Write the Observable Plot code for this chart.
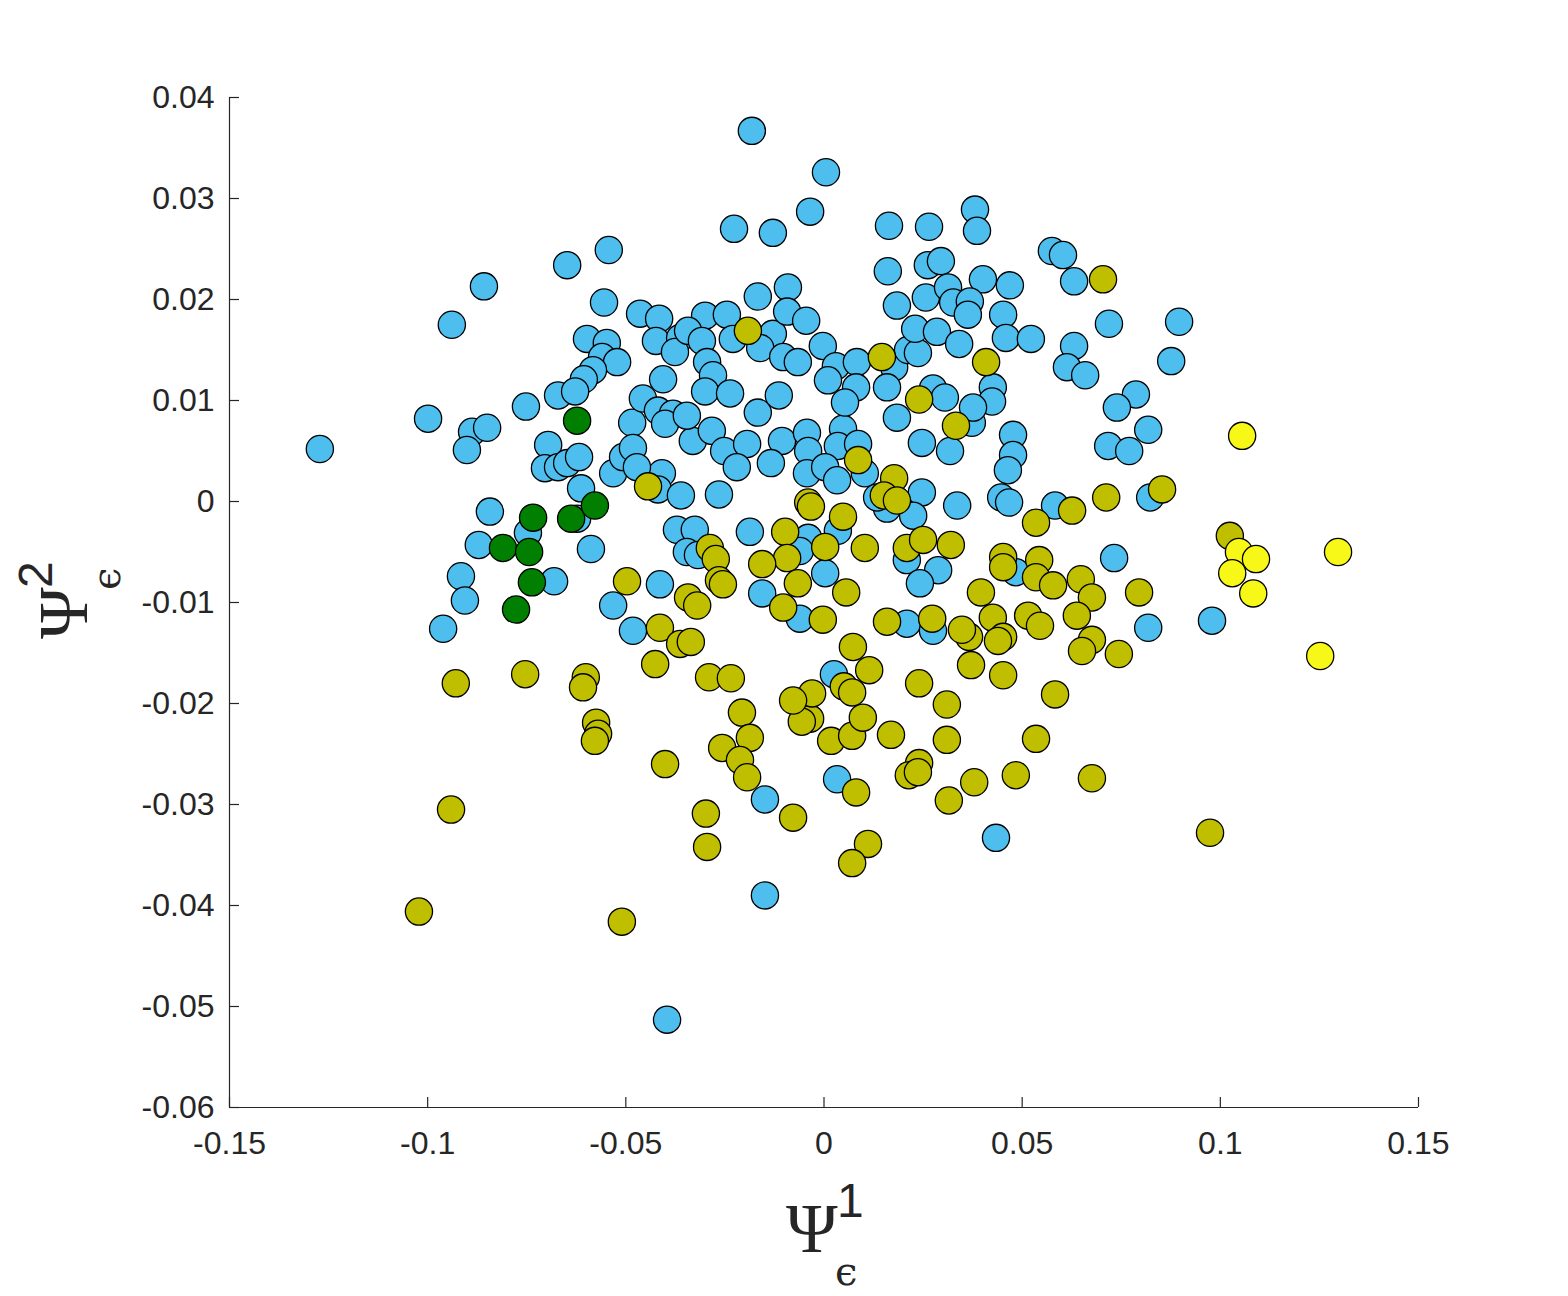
<!DOCTYPE html>
<html>
<head>
<meta charset="utf-8">
<script src="https://cdn.jsdelivr.net/npm/d3@7"></script>
<script src="https://cdn.jsdelivr.net/npm/@observablehq/plot@0.6"></script>
<style>
  html, body { margin: 0; padding: 0; background: #ffffff; }
  #chart { width: 1568px; height: 1296px; }
</style>
</head>
<body>
<div id="chart"></div>
<script>
// ---- data ----
const xTicks = [-0.15, -0.1, -0.05, 0, 0.05, 0.1, 0.15];
const yTicks = [-0.06, -0.05, -0.04, -0.03, -0.02, -0.01, 0, 0.01, 0.02, 0.03, 0.04];

const blueX = [-0.1272,-0.0999,-0.0939,-0.0858,-0.0888,-0.0850,-0.0901,-0.0752,-0.0843,-0.0871,
  -0.0916,-0.0906,-0.0961,-0.0747,-0.0681,-0.0588,-0.0532,-0.0482,-0.0648,-0.0543,
  -0.0555,-0.0598,-0.0548,-0.0560,-0.0522,-0.0583,-0.0606,-0.0671,-0.0628,-0.0696,
  -0.0704,-0.0671,-0.0648,-0.0618,-0.0613,-0.0532,-0.0507,-0.0623,-0.0484,-0.0457,
  -0.0464,-0.0416,-0.0424,-0.0363,-0.0376,-0.0300,-0.0245,-0.0343,-0.0308,-0.0230,
  -0.0129,-0.0161,-0.0295,-0.0280,-0.0300,-0.0237,-0.0406,-0.0419,-0.0381,-0.0401,
  -0.0482,-0.0331,-0.0283,-0.0252,-0.0194,-0.0167,-0.0114,-0.0106,-0.0043,-0.0182,
  0.0005,-0.0035,-0.0227,-0.0129,0.0164,0.0265,0.0381,0.0386,0.0161,0.0262,
  0.0295,0.0401,-0.0167,-0.0091,-0.0093,-0.0045,0.0184,0.0257,0.0313,0.0326,
  0.0368,0.0363,-0.0103,-0.0066,-0.0003,0.0030,0.0010,0.0083,0.0081,0.0177,
  0.0212,0.0237,0.0230,0.0285,0.0341,0.0159,0.0275,0.0305,0.0184,0.0247,
  0.0318,0.0048,0.0035,0.0086,0.0053,0.0575,0.0603,0.0631,0.0469,0.0452,
  0.0459,0.0522,0.0631,0.0613,0.0659,0.0719,0.0896,0.0876,0.0787,0.0739,
  0.0818,0.0717,0.0770,0.0426,0.0424,0.0373,0.0477,0.0477,0.0376,0.0464,
  0.0447,0.0467,0.0583,0.0823,0.0336,0.0732,0.0484,0.0818,0.0979,0.0434,
  -0.0149,-0.0149,-0.0396,0.0033,-0.0409,-0.0419,-0.0361,-0.0265,-0.0220,-0.0134,
  -0.0040,-0.0043,0.0003,0.0033,0.0103,0.0159,0.0134,0.0247,0.0225,-0.0371,
  -0.0326,-0.0346,-0.0318,-0.0187,-0.0040,0.0035,-0.0061,0.0003,-0.0156,-0.0061,
  0.0209,0.0288,0.0242,0.0209,0.0275,0.0025,-0.0414,-0.0346,-0.0472];
const blueY = [0.0052,0.0082,0.0175,0.0213,0.0069,0.0073,0.0051,0.0094,-0.0010,-0.0043,
  -0.0074,-0.0098,-0.0126,-0.0031,-0.0079,-0.0047,-0.0103,-0.0128,0.0234,0.0249,
  0.0197,0.0161,0.0157,0.0143,0.0138,0.0130,0.0121,0.0105,0.0109,0.0056,
  0.0033,0.0034,0.0038,0.0044,0.0013,0.0028,0.0044,-0.0017,0.0078,0.0102,
  0.0186,0.0181,0.0159,0.0162,0.0148,0.0184,0.0185,0.0169,0.0159,0.0161,
  0.0166,0.0152,0.0138,0.0125,0.0109,0.0107,0.0121,0.0090,0.0087,0.0077,
  0.0053,0.0060,0.0070,0.0050,0.0057,0.0088,0.0105,0.0060,0.0068,0.0367,
  0.0326,0.0287,0.0270,0.0266,0.0273,0.0272,0.0289,0.0268,0.0228,0.0234,
  0.0238,0.0220,0.0203,0.0212,0.0188,0.0179,0.0194,0.0202,0.0212,0.0197,
  0.0198,0.0185,0.0143,0.0138,0.0154,0.0134,0.0120,0.0138,0.0113,0.0133,
  0.0150,0.0147,0.0171,0.0168,0.0156,0.0113,0.0112,0.0103,0.0083,0.0058,
  0.0050,0.0072,0.0055,0.0057,0.0098,0.0248,0.0244,0.0218,0.0214,0.0185,
  0.0162,0.0161,0.0154,0.0133,0.0125,0.0176,0.0178,0.0139,0.0106,0.0093,
  0.0071,0.0055,0.0050,0.0113,0.0099,0.0078,0.0066,0.0046,0.0093,0.0031,
  0.0004,-0.0001,-0.0004,0.0004,-0.0004,-0.0056,-0.0070,-0.0125,-0.0118,-0.0333,
  -0.0295,-0.0390,-0.0513,-0.0275,0.0028,0.0012,0.0006,0.0007,0.0034,0.0038,
  0.0050,0.0028,0.0034,0.0021,0.0028,-0.0007,0.0004,0.0009,-0.0014,-0.0028,
  -0.0028,-0.0050,-0.0053,-0.0030,-0.0036,-0.0029,-0.0049,-0.0071,-0.0091,-0.0116,
  -0.0058,-0.0068,-0.0081,-0.0121,-0.0128,-0.0171,-0.0082,0.0085,0.0034];

const oliveX = [-0.0192,0.0146,0.0240,0.0409,0.0333,0.0086,0.0704,0.0626,0.0535,0.0712,
  0.0853,0.1024,0.0452,0.0452,0.0543,0.0535,0.0578,0.0648,0.0676,0.0396,
  0.0795,0.0426,0.0515,0.0545,0.0638,0.0676,0.0651,0.0744,0.0366,0.0452,
  0.0439,0.0371,0.0452,0.0583,0.0535,0.0484,0.0379,0.0676,0.0974,-0.0207,
  -0.0187,-0.0257,-0.0212,-0.0194,-0.0401,-0.0298,-0.0295,-0.0078,-0.0510,-0.0035,
  -0.0056,0.0018,0.0071,0.0098,0.0169,0.0310,0.0310,0.0081,0.0240,0.0214,
  0.0237,0.0315,0.0111,0.0071,-0.0575,-0.0570,-0.0578,-0.0941,-0.1022,-0.0929,
  -0.0754,-0.0601,-0.0608,-0.0497,-0.0444,0.0177,0.0151,0.0184,-0.0288,-0.0273,
  -0.0265,-0.0255,-0.0098,0.0048,-0.0040,-0.0033,-0.0093,-0.0156,0.0003,-0.0066,
  -0.0103,-0.0003,0.0056,0.0103,0.0209,0.0250,0.0320,0.0159,0.0273,0.0348,
  0.0073,0.0114,0.0050,0.0071,0.0240,-0.0030,-0.0078,-0.0290,-0.0235,-0.0426,
  -0.0414,-0.0363,-0.0336,-0.0343,-0.0320];
const oliveY = [0.0169,0.0143,0.0101,0.0138,0.0075,0.0041,0.0220,-0.0009,-0.0021,0.0004,
  0.0012,-0.0034,-0.0055,-0.0065,-0.0058,-0.0075,-0.0083,-0.0077,-0.0095,-0.0090,
  -0.0090,-0.0115,-0.0113,-0.0123,-0.0113,-0.0137,-0.0148,-0.0151,-0.0134,-0.0134,
  -0.0138,-0.0162,-0.0172,-0.0191,-0.0235,-0.0271,-0.0278,-0.0274,-0.0328,-0.0209,
  -0.0234,-0.0244,-0.0256,-0.0273,-0.0260,-0.0309,-0.0342,-0.0313,-0.0416,-0.0215,
  -0.0218,-0.0237,-0.0232,-0.0214,-0.0231,-0.0201,-0.0236,-0.0288,-0.0259,-0.0271,
  -0.0268,-0.0296,-0.0339,-0.0358,-0.0219,-0.0230,-0.0237,-0.0305,-0.0406,-0.0180,
  -0.0171,-0.0174,-0.0184,-0.0079,0.0015,0.0023,0.0006,0.0001,-0.0046,-0.0057,
  -0.0078,-0.0082,-0.0030,-0.0015,-0.0001,-0.0005,-0.0056,-0.0062,-0.0045,-0.0081,
  -0.0105,-0.0117,-0.0090,-0.0046,-0.0046,-0.0038,-0.0043,-0.0119,-0.0116,-0.0127,
  -0.0144,-0.0167,-0.0183,-0.0189,-0.0180,-0.0190,-0.0197,-0.0174,-0.0175,-0.0161,
  -0.0125,-0.0141,-0.0139,-0.0095,-0.0103];

const greenX = [-0.0623,-0.0734,-0.0810,-0.0744,-0.0737,-0.0777,-0.0638,-0.0578];
const greenY = [0.0080,-0.0016,-0.0046,-0.0050,-0.0080,-0.0107,-0.0017,-0.0004];

const yellowX = [0.1055,0.1047,0.1090,0.1030,0.1083,0.1297,0.1252];
const yellowY = [0.0065,-0.0050,-0.0057,-0.0071,-0.0091,-0.0050,-0.0153];

// ---- build tables ----
const toRows = (xs, ys) => xs.map((x, i) => ({x, y: ys[i]}));
const blue = toRows(blueX, blueY);
const olive = toRows(oliveX, oliveY);
const green = toRows(greenX, greenY);
const yellow = toRows(yellowX, yellowY);

const ink = "#262626";
const fmt = d => String(d);
const dotOpts = {x: "x", y: "y", r: 13.6, stroke: "#000000", strokeWidth: 1.3};

const chart = Plot.plot({
  width: 1568,
  height: 1296,
  marginLeft: 229,
  marginRight: 150,
  marginTop: 97,
  marginBottom: 189,
  style: {fontFamily: "'Liberation Sans', Arial, Helvetica, sans-serif", fontSize: "32px", color: ink, background: "#ffffff"},
  x: {domain: [-0.15, 0.15]},
  y: {domain: [-0.06, 0.04]},
  marks: [
    Plot.axisX({ticks: xTicks, tickFormat: fmt, tickSize: 0, tickPadding: 24, label: null, fill: ink}),
    Plot.axisY({ticks: yTicks, tickFormat: fmt, tickSize: 0, tickPadding: 15, label: null, fill: ink}),
    Plot.tickX(xTicks, {x: d => d, insetTop: 1000, stroke: ink, strokeWidth: 1.2}),
    Plot.tickY(yTicks, {y: d => d, insetRight: 1179, stroke: ink, strokeWidth: 1.2}),
    Plot.ruleX([-0.15], {stroke: ink, strokeWidth: 1.2}),
    Plot.ruleY([-0.06], {stroke: ink, strokeWidth: 1.2}),
    Plot.dot(blue, {...dotOpts, fill: "#4DBEEE"}),
    Plot.dot(olive, {...dotOpts, fill: "#BFBF00"}),
    Plot.dot(green, {...dotOpts, fill: "#007F00"}),
    Plot.dot(yellow, {...dotOpts, fill: "#F8F818"})
  ]
});
document.getElementById("chart").appendChild(chart);

// ---- axis labels: Ψ with superscript index and subscript ϵ ----
const svg = d3.select(chart);
function addLabel(g, idx) {
  g.append("text").attr("x", 0).attr("y", 0).attr("text-anchor", "start")
    .attr("font-family", "'Liberation Serif', 'DejaVu Serif', serif")
    .attr("font-size", 70).attr("fill", ink).text("Ψ");
  g.append("text").attr("x", 51).attr("y", -35).attr("text-anchor", "start")
    .attr("font-family", "'Liberation Sans', Arial, sans-serif")
    .attr("font-size", 48).attr("fill", ink).text(idx);
  g.append("text").attr("x", 49).attr("y", 33).attr("text-anchor", "start")
    .attr("font-family", "'DejaVu Serif', 'Liberation Serif', serif")
    .attr("font-size", 40).attr("fill", ink).text("ϵ");
}
addLabel(svg.append("g").attr("transform", "translate(786,1252)"), "1");
addLabel(svg.append("g").attr("transform", "translate(87,639) rotate(-90)"), "2");
</script>
</body>
</html>
